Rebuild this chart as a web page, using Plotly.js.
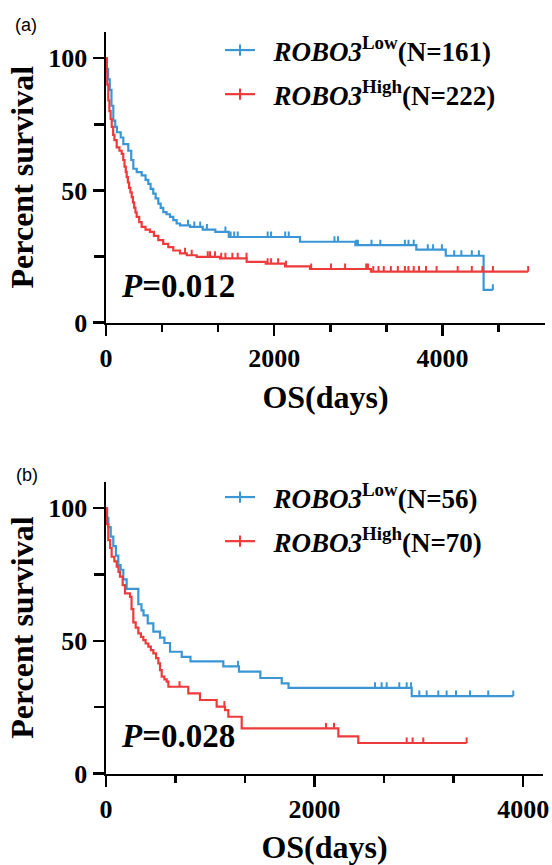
<!DOCTYPE html>
<html>
<head>
<meta charset="utf-8">
<script src="https://cdn.plot.ly/plotly-3.0.1.min.js"></script>
<style>html,body{margin:0;padding:0;background:#fff;}#chart{width:552px;height:865px;}</style>
</head>
<body>
<div id="chart"></div>
<script>
// ---------- Panel (a) data ----------
const aLowName = '\u00a0\u00a0<i>ROBO3</i><sup>Low</sup>(N=161)';
const aHighName = '\u00a0\u00a0<i>ROBO3</i><sup>High</sup>(N=222)';
const aLowEventT = [0, 10, 25, 45, 65, 87, 110, 130, 175, 206, 265, 300, 325, 365, 424, 470, 503, 530, 562, 590, 622, 650, 681, 720, 761, 800, 840, 880, 1000, 1150, 1300, 1460, 2307, 2965, 3690, 4040, 4490];
const aLowEventS = [100, 96, 92, 88, 82, 76.4, 74, 72, 70, 67.5, 65, 61.5, 58.2, 56.9, 55.7, 54, 52.5, 50.6, 48.8, 47, 45, 43.4, 41.8, 41, 40, 38.8, 37.5, 36.8, 36.2, 35.2, 34.3, 32.4, 30.6, 29.3, 27.6, 25.3, 12.4];
const aLowCensorT = [975, 1050, 1120, 1200, 1420, 1482, 1524, 1566, 1922, 1963, 2131, 2173, 2717, 2759, 2975, 2995, 3157, 3262, 3554, 3597, 3659, 3826, 3889, 3994, 4140, 4225, 4350, 4434, 4600];
const aHighEventT = [0, 8, 15, 27, 40, 55, 68, 85, 100, 127, 160, 187, 205, 220, 235, 246, 260, 275, 290, 306, 320, 335, 350, 365, 395, 424, 470, 523, 570, 622, 680, 741, 800, 880, 960, 1078, 1356, 1673, 1900, 2130, 2426, 3150];
const aHighEventS = [100, 95, 90, 84, 80, 77, 74, 71, 69, 66.3, 65, 63.8, 61.5, 59, 57, 55, 53, 51, 49.3, 47.5, 45.5, 43.5, 41.7, 40, 38, 36.2, 35.2, 34.3, 32.8, 31.2, 29.8, 28.6, 27.3, 26.2, 25.5, 24.9, 24.3, 23, 22.3, 21.3, 20.3, 19.3];
const aHighCensorT = [940, 1019, 1210, 1237, 1296, 1370, 1420, 1503, 1566, 1671, 1922, 1963, 2047, 2140, 2440, 2675, 2843, 3094, 3115, 3178, 3240, 3303, 3387, 3470, 3554, 3596, 3659, 3722, 3805, 3931, 4182, 4350, 4476, 4601, 5020];
const aPText = '<i>P</i>=0.012';

// ---------- Panel (b) data ----------
const bLowName = '\u00a0\u00a0<i>ROBO3</i><sup>Low</sup>(N=56)';
const bHighName = '\u00a0\u00a0<i>ROBO3</i><sup>High</sup>(N=70)';
const bLowEventT = [0, 10, 22, 45, 70, 95, 118, 140, 166, 198, 310, 340, 360, 400, 454, 518, 560, 614, 726, 810, 1125, 1275, 1480, 1685, 1750, 2931];
const bLowEventS = [100, 96.4, 92.9, 89.3, 85.7, 82.1, 78.6, 76.8, 73.2, 69.6, 63.8, 61.5, 59.6, 56.6, 53.5, 51.2, 49.2, 45.9, 44.0, 42.3, 40.4, 38.4, 36.0, 34.0, 32.3, 29.2];
const bLowCensorT = [1265, 2579, 2643, 2691, 2812, 2883, 2925, 3004, 3075, 3186, 3266, 3356, 3490, 3665, 3905];
const bHighEventT = [0, 10, 22, 40, 54, 80, 103, 120, 134, 160, 182, 230, 245, 262, 285, 310, 335, 358, 380, 406, 430, 454, 480, 502, 518, 534, 560, 582, 598, 789, 901, 1061, 1141, 1173, 1301, 2228, 2419];
const bHighEventS = [100, 94, 88, 85, 81.7, 80, 78, 76, 74.2, 71, 67.9, 66.6, 62, 57, 55, 52.8, 51.5, 50.3, 49, 47.8, 46.5, 45.3, 43.5, 41.5, 39, 36.5, 35.5, 34.6, 32.7, 30.2, 27.7, 25.2, 23.9, 21.4, 17.0, 14.0, 11.5];
const bHighCensorT = [705, 1135, 2109, 2186, 2883, 2940, 3042, 3458];
const bPText = '<i>P</i>=0.028';

// axis texts
const xTitle = 'OS(days)';
const yTitle = 'Percent survival';
const panelLabels = ['(a)', '(b)'];

const BLUE = '#3A96D5';
const RED = '#EE3A3A';
const SERIF = 'Liberation Serif, Times New Roman, serif';
const SANS = 'Liberation Sans, Arial, sans-serif';
const CENSOR_TICK = 2.1; // height of censor tick, in axis units (style)

// merge event steps and censor times (censored point sits at the current step value)
function buildKM(evT, evS, cenT) {
  const pts = evT.map((t, i) => ({t: t, s: evS[i], c: 0}));
  cenT.forEach(t => {
    let s = evS[0];
    for (let i = 0; i < evT.length; i++) if (evT[i] <= t) s = evS[i];
    pts.push({t: t, s: s, c: 1});
  });
  pts.sort((a, b) => (a.t - b.t) || (a.c - b.c));
  return {
    x: pts.map(p => p.t),
    y: pts.map(p => p.s),
    up: pts.map(p => p.c ? CENSOR_TICK : 0),
    down: pts.map(() => 0)
  };
}

function kmTrace(evT, evS, cenT, name, color, xa, ya, leg, grp) {
  const d = buildKM(evT, evS, cenT);
  return {
    type: 'scatter', mode: 'lines+markers',
    x: d.x, y: d.y, name: name,
    xaxis: xa, yaxis: ya, legend: leg, legendgroup: grp,
    line: {shape: 'hv', color: color, width: 2.2},
    // marker only shows in the legend (no point selected on the plot)
    marker: {symbol: 'line-ns-open', size: 8, color: color, line: {color: color, width: 2}},
    selectedpoints: [],
    unselected: {marker: {opacity: 0}},
    // censor ticks pointing upward
    error_y: {type: 'data', symmetric: false, array: d.up, arrayminus: d.down, width: 0, thickness: 2, color: color, visible: true},
    hoverinfo: 'skip'
  };
}

const data = [
  kmTrace(aLowEventT, aLowEventS, aLowCensorT, aLowName, BLUE, 'x', 'y', 'legend', 'alow'),
  kmTrace(aHighEventT, aHighEventS, aHighCensorT, aHighName, RED, 'x', 'y', 'legend', 'ahigh'),
  kmTrace(bLowEventT, bLowEventS, bLowCensorT, bLowName, BLUE, 'x2', 'y2', 'legend2', 'blow'),
  kmTrace(bHighEventT, bHighEventS, bHighCensorT, bHighName, RED, 'x2', 'y2', 'legend2', 'bhigh')
];

const tickFont = {family: SERIF, size: 26, color: '#000', weight: 'bold'};
const titleFont = {family: SERIF, size: 32, color: '#000', weight: 'bold'};

function xAxis(domain, range, anchor) {
  return {
    domain: domain, range: range, anchor: anchor,
    showline: true, linecolor: '#000', linewidth: 2.5,
    showgrid: false, zeroline: false,
    tickmode: 'linear', tick0: 0, dtick: 2000,
    ticks: 'outside', ticklen: 11, tickwidth: 2.5, tickcolor: '#000',
    minor: {ticks: 'outside', dtick: 2000 / 3, tick0: 0, ticklen: 7, tickwidth: 2.5, tickcolor: '#000', showgrid: false},
    tickfont: tickFont,
    title: {text: xTitle, font: titleFont, standoff: 13},
    fixedrange: true
  };
}
function yAxis(domain, anchor) {
  return {
    domain: domain, range: [0, 110], anchor: anchor,
    showline: true, linecolor: '#000', linewidth: 2.5,
    showgrid: false, zeroline: false,
    tickmode: 'linear', tick0: 0, dtick: 50,
    ticks: 'outside', ticklen: 11, tickwidth: 2.5, tickcolor: '#000',
    minor: {ticks: 'outside', dtick: 25, tick0: 0, ticklen: 10, tickwidth: 2.5, tickcolor: '#000', showgrid: false},
    tickfont: tickFont, ticklabelstandoff: 0,
    title: {text: yTitle, font: titleFont, standoff: 5},
    fixedrange: true
  };
}

const legendBase = {
  xanchor: 'left', yanchor: 'top',
  font: {family: SERIF, size: 27, color: '#000', weight: 'bold'},
  bgcolor: 'rgba(0,0,0,0)', borderwidth: 0,
  traceorder: 'grouped', tracegroupgap: 6
};

const layout = {
  width: 552, height: 865,
  margin: {l: 0, r: 0, t: 0, b: 0},
  paper_bgcolor: '#fff', plot_bgcolor: '#fff',
  showlegend: true,
  xaxis: xAxis([106 / 552, 545 / 552], [0, 5220], 'y'),
  yaxis: yAxis([1 - 322.7 / 865, 1 - 31.7 / 865], 'x'),
  xaxis2: xAxis([106 / 552, 543 / 552], [0, 4190], 'y2'),
  yaxis2: yAxis([1 - 773.5 / 865, 1 - 481.7 / 865], 'x2'),
  legend: Object.assign({x: 220 / 552, y: 1 - 26 / 865}, legendBase),
  legend2: Object.assign({x: 220 / 552, y: 1 - 473 / 865}, legendBase),
  annotations: [
    {text: panelLabels[0], xref: 'paper', yref: 'paper', x: 26 / 552, y: 1 - 25 / 865, xanchor: 'center', yanchor: 'middle', showarrow: false, font: {family: SANS, size: 18, color: '#000'}},
    {text: panelLabels[1], xref: 'paper', yref: 'paper', x: 26.7 / 552, y: 1 - 475 / 865, xanchor: 'center', yanchor: 'middle', showarrow: false, font: {family: SANS, size: 18, color: '#000'}},
    {text: aPText, xref: 'paper', yref: 'paper', x: 119 / 552, y: 1 - 286 / 865, xanchor: 'left', yanchor: 'middle', showarrow: false, font: {family: SERIF, size: 33, color: '#000', weight: 'bold'}},
    {text: bPText, xref: 'paper', yref: 'paper', x: 119 / 552, y: 1 - 736 / 865, xanchor: 'left', yanchor: 'middle', showarrow: false, font: {family: SERIF, size: 33, color: '#000', weight: 'bold'}}
  ]
};

Plotly.newPlot('chart', data, layout, {displayModeBar: false, staticPlot: true});
</script>
</body>
</html>
